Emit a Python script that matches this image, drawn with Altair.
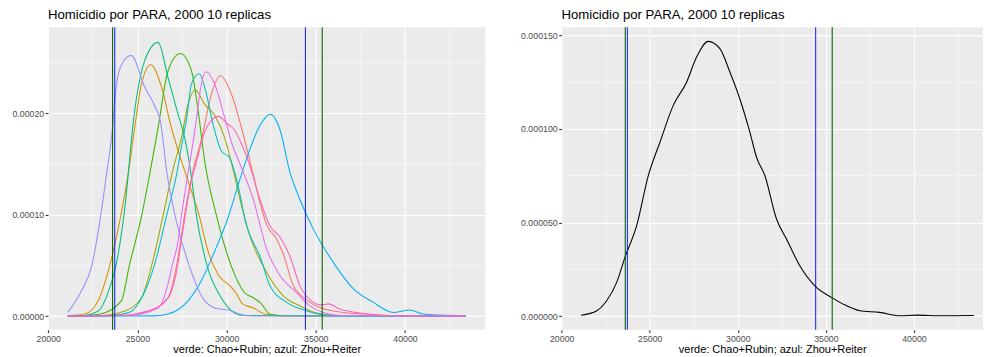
import altair as alt
import pandas as pd

# ---------------- data (densities in units of 1e-5) ----------------
UNIT = 1e-5

c01_x = [21100, 24000, 25600, 26720, 27200, 27650, 28100, 28600, 29150, 29650, 30270, 30830, 31390, 31900, 32250, 32800, 33200, 33740, 34200, 34670, 35300, 35980, 36800, 37850, 39000, 43400]
c01_y = [0, 0.05, 0.5, 1.8, 5, 10, 14.2, 17.5, 21.9, 23.7, 21.9, 18.6, 14.7, 11.0, 9.0, 7.6, 6.0, 3.0, 2.0, 1.35, 0.8, 0.5, 0.3, 0.2, 0.05, 0]

c02_x = [21100, 22053, 22800, 23450, 24080, 24480, 24850, 25230, 25750, 26350, 26900, 27470, 27840, 28450, 28960, 29520, 30170, 30556, 30900, 31500, 32130, 33000, 43400]
c02_y = [0.05, 0.2, 1.5, 5, 10, 14, 18.6, 22.9, 24.8, 22.6, 18.6, 15.3, 13.3, 10, 6.4, 4.1, 3.0, 2.2, 1.2, 0.8, 0.2, 0, 0]

c03_x = [21100, 23000, 24290, 25230, 25800, 26450, 27000, 27470, 27840, 28250, 28770, 29330, 29890, 30360, 30750, 31310, 32250, 33180, 34110, 35050, 36000, 43400]
c03_y = [0, 0.05, 0.5, 1.8, 5, 10, 14.5, 17.6, 20.9, 22.3, 20.9, 19.8, 17.6, 14.5, 11.5, 7.9, 4.3, 2.0, 1.0, 0.3, 0.05, 0]

c04_x = [21100, 22000, 22930, 24100, 24550, 25250, 25690, 26160, 26720, 27410, 28030, 28400, 28770, 29420, 30250, 31010, 31500, 31900, 32430, 33000, 43400]
c04_y = [0, 0.02, 0.2, 1.5, 5, 10, 14, 18.6, 24.2, 25.9, 24.2, 20.3, 15.3, 10, 5, 2.3, 1.8, 1.3, 0.2, 0.05, 0]

c05_x = [21100, 22000, 22800, 23450, 23800, 24250, 24850, 25410, 26160, 26720, 27280, 27650, 28030, 28300, 28900, 29700, 30450, 31000, 43400]
c05_y = [0, 0.05, 0.5, 2.8, 5, 10, 20.3, 25.2, 27.0, 23.5, 19.9, 17.6, 13.7, 10, 5, 1.8, 0.3, 0.05, 0]

c06_x = [21100, 23500, 24600, 25300, 25950, 26650, 27200, 27490, 27770, 28030, 28460, 28870, 29240, 29700, 30170, 30560, 31120, 31870, 32430, 33370, 34490, 35500, 36500, 43400]
c06_y = [0, 0.05, 0.4, 2, 5, 10, 14, 16.9, 19.6, 22.9, 23.9, 21.9, 18.9, 16.3, 15.6, 13.5, 8.9, 5.9, 3.0, 1.35, 0.5, 0.1, 0, 0]

c07_x = [21100, 26000, 26720, 27840, 28590, 29330, 30080, 30750, 31100, 31870, 32450, 32990, 33550, 34110, 34860, 35980, 37100, 38220, 39340, 40270, 41000, 42000, 43400]
c07_y = [0, 0.02, 0.2, 1.5, 3.5, 6.4, 9.7, 13.5, 15.4, 18.8, 19.9, 18.4, 14.2, 11.5, 8.6, 5.3, 2.7, 1.35, 0.36, 0.6, 0.2, 0.1, 0.05]

c08_x = [21100, 21867, 22450, 22950, 23270, 23550, 23830, 24110, 24650, 25410, 25950, 26300, 26650, 27100, 27900, 28700, 29260, 29630, 30100, 30800, 31500, 43400]
c08_y = [0.36, 2.5, 5, 10, 14, 17.6, 22.9, 24.8, 25.7, 22.6, 20.8, 19.1, 14.2, 10, 5, 1.67, 0.85, 0.69, 0.6, 0.15, 0, 0]

c09_x = [21100, 24500, 26160, 26720, 26950, 27280, 27460, 27800, 28045, 28325, 28500, 28850, 29330, 29890, 30300, 30750, 31500, 32245, 32990, 33925, 34670, 35500, 36500, 43400]
c09_y = [0, 0.05, 0.8, 3.2, 5, 7.4, 9.8, 13.7, 16.3, 19.6, 22.0, 24.1, 22.9, 19.6, 17.0, 15.0, 11.5, 6.6, 4.0, 2.3, 1.0, 0.3, 0.05, 0]

c10_x = [21100, 24000, 25600, 26720, 27150, 27600, 28045, 28325, 28800, 29150, 29530, 30080, 30380, 30830, 31310, 31870, 32430, 32990, 33550, 34110, 34860, 35300, 35700, 36350, 37470, 38500, 40000, 43400]
c10_y = [0, 0.05, 0.5, 1.8, 4, 9, 13.5, 15.3, 18.3, 19.3, 19.7, 18.9, 18.5, 17.0, 14.8, 11.5, 8.9, 7.8, 5.9, 3.0, 1.35, 1.1, 1.2, 0.7, 0.3, 0.1, 0.02, 0]

all_x = [21100, 21996, 22553, 23120, 23593, 24255, 24917, 25578, 26335, 27091, 27659, 28320, 28982, 29550, 30117, 30684, 31062, 31535, 32197, 32764, 33521, 34372, 35317, 35980, 36925, 38059, 39194, 40140, 41463, 43400]
all_y = [0.05, 0.29, 0.82, 1.8, 3.14, 4.83, 7.51, 9.29, 11.26, 12.5, 13.84, 14.68, 14.29, 13.04, 11.6, 9.83, 8.49, 7.51, 5.19, 4.12, 2.69, 1.62, 1.0, 0.64, 0.29, 0.2, 0.02, 0.05, 0.02, 0.03]

group_names = ["01", "02", "03", "04", "05", "06", "07", "08", "09", "10"]
group_colors = ["#F8766D", "#D89000", "#A3A500", "#39B600", "#00BF7D",
                "#00BFC4", "#00B0F6", "#9590FF", "#E76BF3", "#FF62BC"]

green_lines = [23610, 35360]
blue_lines = [23730, 34420]

x_ticks = [20000, 25000, 30000, 35000, 40000]
x_minor = [22500, 27500, 32500, 37500, 42500]
yl_ticks = [0, 0.00010, 0.00020]
yl_minor = [0.00005, 0.00015, 0.00025]
yr_ticks = [0, 0.00005, 0.00010, 0.00015]
yr_minor = [0.000025, 0.000075, 0.000125]

title_text = "Homicidio por PARA, 2000 10 replicas"
x_title = "verde: Chao+Rubin; azul: Zhou+Reiter"

# ---------------- build tables ----------------
xs = [c01_x, c02_x, c03_x, c04_x, c05_x, c06_x, c07_x, c08_x, c09_x, c10_x]
ys = [c01_y, c02_y, c03_y, c04_y, c05_y, c06_y, c07_y, c08_y, c09_y, c10_y]
rows = []
for g, cx, cy in zip(group_names, xs, ys):
    for a, b in zip(cx, cy):
        rows.append({"g": g, "x": a, "d": b * UNIT})
curves_df = pd.DataFrame(rows)
all_df = pd.DataFrame({"x": all_x, "d": [v * UNIT for v in all_y]})
green_df = pd.DataFrame({"x": green_lines})
blue_df = pd.DataFrame({"x": blue_lines})
xminor_df = pd.DataFrame({"x": x_minor})

FONT = "Liberation Sans"
LW = 1.07


def panel(line_layer_fn, y_domain, y_ticks, y_minor, y_fmt, x_domain, width):
    xscale = alt.Scale(domain=x_domain, nice=False, zero=False)
    yscale = alt.Scale(domain=y_domain, nice=False, zero=False)
    xaxis = alt.Axis(values=x_ticks, format="d", title=x_title, labelFlush=False)
    yaxis = alt.Axis(values=y_ticks, format=y_fmt, title=None, labelFlush=False)
    X = lambda: alt.X("x:Q", scale=xscale, axis=xaxis, title=x_title)
    Y = lambda: alt.Y("d:Q", scale=yscale, axis=yaxis, title=None)
    minor_x = alt.Chart(xminor_df).mark_rule(color="white", strokeWidth=LW / 2).encode(x=X())
    minor_y = alt.Chart(pd.DataFrame({"d": y_minor})).mark_rule(color="white", strokeWidth=LW / 2).encode(y=Y())
    lines = line_layer_fn(X(), Y())
    vg = alt.Chart(green_df).mark_rule(color="#006400", strokeWidth=LW).encode(x=X())
    vb = alt.Chart(blue_df).mark_rule(color="#0000FF", strokeWidth=LW, opacity=0.85).encode(x=X())
    return alt.layer(minor_x, minor_y, lines, vg, vb).properties(
        width=width, height=303,
        title=alt.TitleParams(title_text, anchor="start", frame="group"))


def left_lines(xenc, yenc):
    return alt.Chart(curves_df).mark_line(strokeWidth=LW, interpolate="monotone").encode(
        x=xenc, y=yenc,
        color=alt.Color("g:N", scale=alt.Scale(domain=group_names, range=group_colors), legend=None),
    )


def right_lines(xenc, yenc):
    return alt.Chart(all_df).mark_line(strokeWidth=LW, color="black", interpolate="monotone").encode(
        x=xenc, y=yenc,
    )


left = panel(left_lines, [-0.0000136, 0.000285], yl_ticks, yl_minor, ".5f", [19985, 44515], 438)
right = panel(right_lines, [-0.00000735, 0.0001544], yr_ticks, yr_minor, ".6f", [19985, 43922], 422)

chart = alt.hconcat(left, right, spacing=34).properties(
    padding={"left": 11, "top": 8, "right": 0, "bottom": 0},
    background="white",
).configure_view(
    fill="#EBEBEB", strokeWidth=0
).configure_axis(
    domain=False, grid=True, gridColor="white", gridWidth=LW,
    ticks=True, tickColor="#333333", tickWidth=LW, tickSize=2.75,
    labelColor="#4D4D4D", labelFont=FONT, labelFontSize=8.8, labelPadding=1.5,
    labelFlush=False,
    titleFont=FONT, titleFontSize=11, titleFontWeight="normal", titleColor="black", titlePadding=1,
).configure_title(
    font=FONT, fontSize=13.2, fontWeight="normal", color="black", offset=4, baseline="alphabetic"
)

chart.save("out.html", embed_options={"renderer": "svg", "actions": False})
